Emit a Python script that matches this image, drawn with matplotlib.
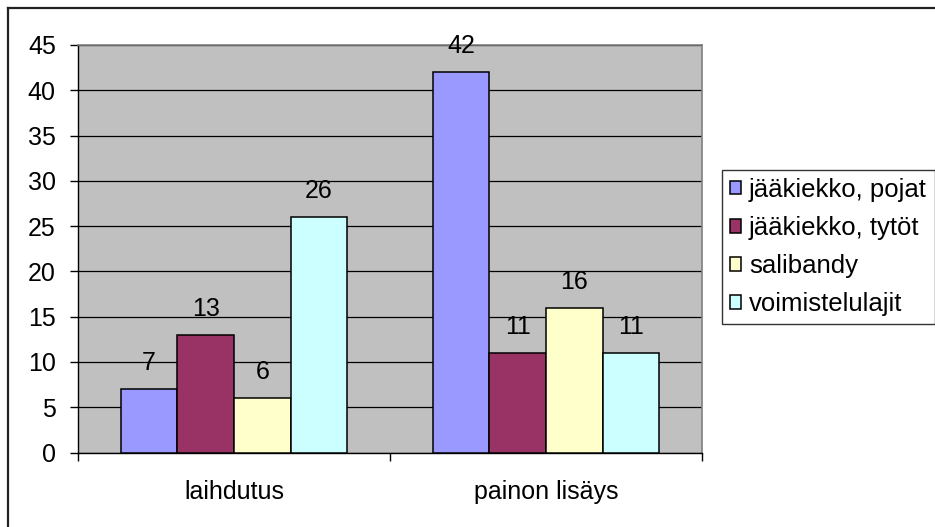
import numpy as np
import matplotlib.pyplot as plt
from matplotlib.patches import Patch
from matplotlib.lines import Line2D

plt.rcParams['font.family'] = ['Liberation Sans', 'DejaVu Sans']

# aineisto
categories = ['laihdutus', 'painon lisäys']
series = ['jääkiekko, pojat', 'jääkiekko, tytöt', 'salibandy', 'voimistelulajit']
values = [
    [7, 42],   # jääkiekko, pojat
    [13, 11],  # jääkiekko, tytöt
    [6, 16],   # salibandy
    [26, 11],  # voimistelulajit
]
colors = ['#9999FF', '#993366', '#FFFFCC', '#CCFFFF']
yticks = list(range(0, 50, 5))

W, H = 935, 527
fig = plt.figure(figsize=(W / 100, H / 100), dpi=100)
fig.patch.set_facecolor('white')

# kaavion reunaviiva (vain ylä- ja vasen reuna näkyvät)
fig.add_artist(Line2D([8 / W, 1], [1 - 8 / H, 1 - 8 / H], color='#222222', lw=1.6,
                      transform=fig.transFigure))
fig.add_artist(Line2D([8 / W, 8 / W], [0, 1 - 8 / H], color='#222222', lw=1.6,
                      transform=fig.transFigure))

ax = fig.add_axes([78 / W, 1 - 452.5 / H, 624 / W, 407.5 / H])
ax.set_facecolor('#C0C0C0')

n = len(series)
bw = 1 / (n + 1.5)
x = np.arange(len(categories))
fs = 18

for i, (name, vals) in enumerate(zip(series, values)):
    pos = x + (i - (n - 1) / 2) * bw
    bars = ax.bar(pos, vals, width=bw, color=colors[i], edgecolor='black',
                  linewidth=1.1, label=name, zorder=3)
    for b, v in zip(bars, vals):
        ax.annotate(str(v), (b.get_x() + b.get_width() / 2, v),
                    xytext=(0, 18.5), textcoords='offset points',
                    ha='center', va='center', fontsize=fs, color='black')

ax.set_xlim(-0.5, len(categories) - 0.5)
ax.set_ylim(0, 45)
ax.set_yticks(yticks)
ax.yaxis.grid(True, color='black', lw=0.9, zorder=0)
ax.set_axisbelow(True)

# kategoriarajojen jakoviivat
ax.set_xticks(np.arange(len(categories) + 1) - 0.5)
ax.set_xticklabels([])
ax.set_xticks(x, minor=True)
ax.set_xticklabels(categories, minor=True, fontsize=fs)
ax.tick_params(axis='x', which='major', direction='out', length=6, width=1, color='black')
ax.tick_params(axis='x', which='minor', length=0, pad=20)
ax.tick_params(axis='y', direction='out', length=6, width=1, labelsize=fs, pad=10)

for side in ['top', 'right']:
    ax.spines[side].set_color('#808080')
    ax.spines[side].set_linewidth(1.2)
for side in ['left', 'bottom']:
    ax.spines[side].set_color('black')
    ax.spines[side].set_linewidth(1)

handles = [Patch(facecolor=c, edgecolor='black', linewidth=1.1) for c in colors]
leg = fig.legend(handles, series, loc='upper left',
                 bbox_to_anchor=(722 / W, 1 - 170 / H), fontsize=18.5,
                 frameon=True, fancybox=False, shadow=False, borderaxespad=0,
                 handlelength=0.45, handleheight=0.45, handletextpad=0.3,
                 labelspacing=0.55, borderpad=0.3)
leg.get_frame().set_edgecolor('black')
leg.get_frame().set_linewidth(1)

fig.savefig('out.png', dpi=100)
